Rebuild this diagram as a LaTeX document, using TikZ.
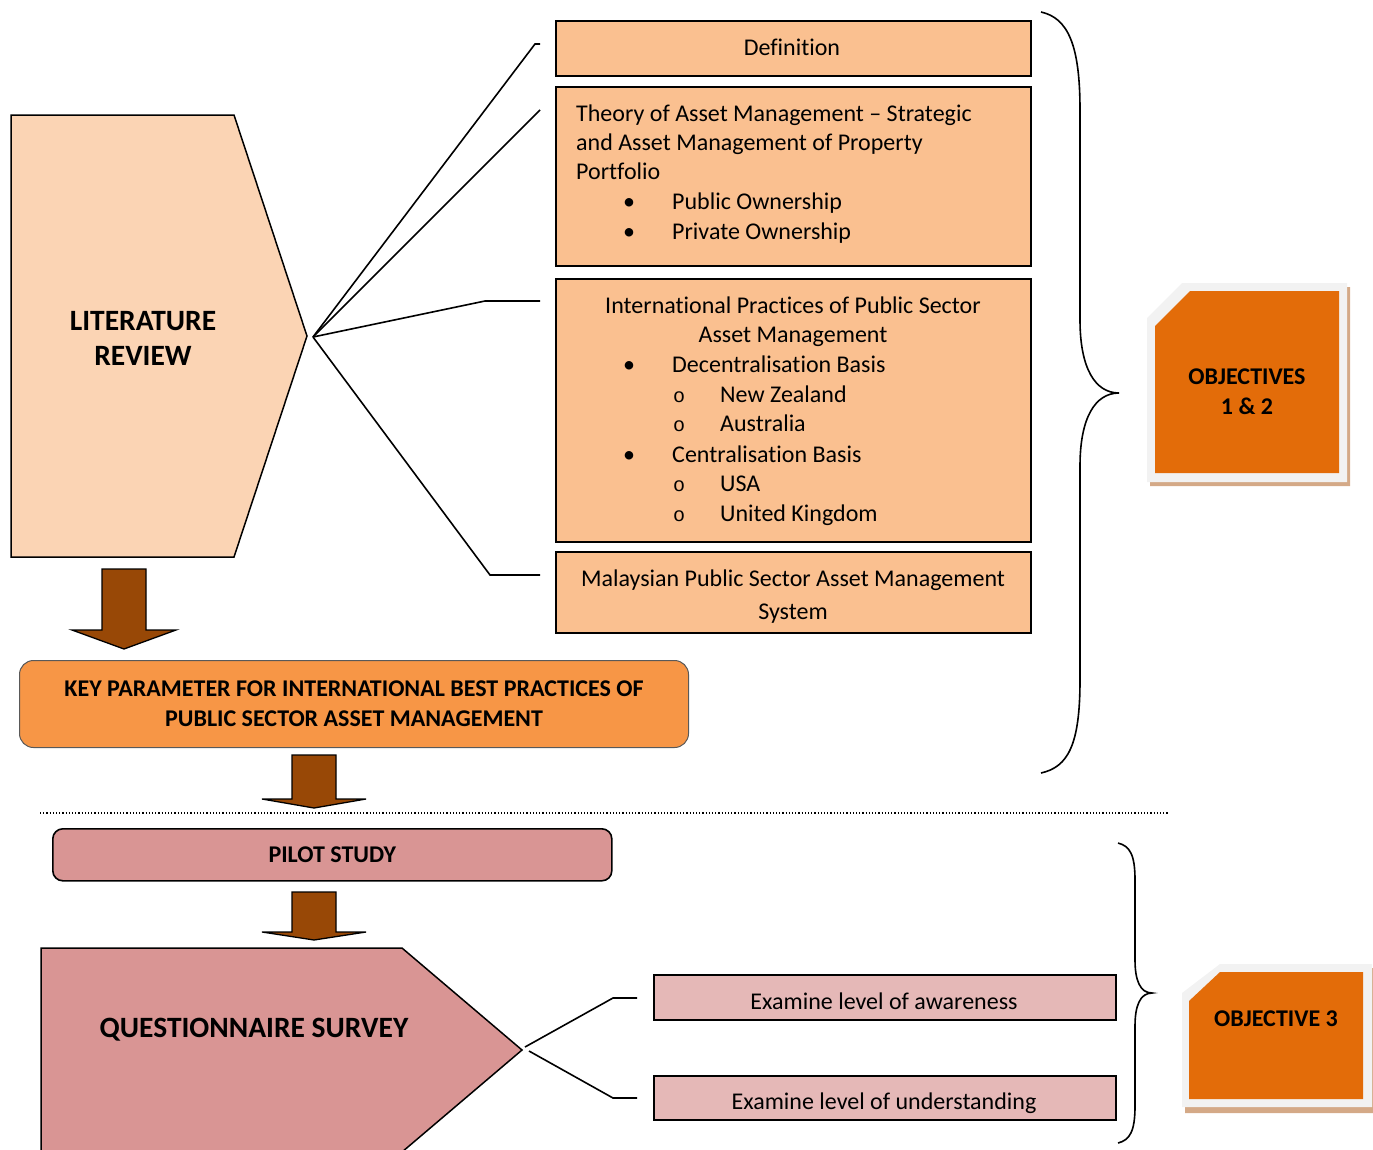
\documentclass[tikz,border=0pt]{standalone}
\usepackage{fontspec}
\setmainfont{Carlito}[Ligatures={TeX,NoCommon}]
\newfontfamily\monofnt{Liberation Mono}
\definecolor{litfill}{HTML}{FBD4B4}
\definecolor{boxfill}{HTML}{FAC090}
\definecolor{keyfill}{HTML}{F79646}
\definecolor{pilotfill}{HTML}{D99594}
\definecolor{examfill}{HTML}{E5B8B7}
\definecolor{objfill}{HTML}{E36C09}
\definecolor{objrim}{HTML}{F2F2F2}
\definecolor{objshadow}{HTML}{D4A987}
\definecolor{arrowbrown}{HTML}{984806}
\newcommand\txtsize{\fontsize{24}{29.5}\selectfont}
\newcommand\boldsize{\fontsize{24}{30}\selectfont\bfseries}
\tikzset{
  box/.style={draw=black, line width=1.6pt, fill=boxfill, inner sep=0pt, anchor=north west},
  exambox/.style={draw=black, line width=1.6pt, fill=examfill, inner sep=0pt, anchor=north west},
  lbl/.style={font=\txtsize, inner sep=0pt, anchor=base west},
  clbl/.style={font=\txtsize, inner sep=0pt, anchor=base},
  blt/.style={font=\txtsize, inner sep=0pt, anchor=base},
  sub/.style={font=\monofnt\fontsize{20}{24}\selectfont, inner sep=0pt, anchor=base},
  conn/.style={draw=black, line width=1.6pt},
  brace/.style={draw=black, line width=1.6pt},
  arrowstyle/.style={draw=black, line width=1.3pt, fill=arrowbrown, line join=miter},
  pics/dnarrow/.style 2 args={code={
    \draw[arrowstyle] (-22,0) -- (22,0) -- (22,#1) -- (52,#1) -- (0,#1+#2)
      -- (-52,#1) -- (-22,#1) -- cycle;}}
}
\begin{document}
\begin{tikzpicture}[x=1pt, y=-1pt]
\useasboundingbox (0,0) rectangle (1373,1149);
\clip (0,0) rectangle (1373,1149);

% literature review block arrow
\draw[line width=1.5pt, fill=litfill] (11,115) -- (234,115) -- (307,336) -- (234,557) -- (11,557) -- cycle;
\node[font=\fontsize{29.5}{35}\selectfont\bfseries, align=center, inner sep=0pt] (lit) at (143,338)
  {LITERATURE\\REVIEW};

% topic boxes
\node[box, minimum width=475pt, minimum height=55pt] (def) at (555,20) {};
\node[clbl] (deft) at (792,55) {Definition};

\node[box, minimum width=475pt, minimum height=179pt] (theory) at (555,86) {};
\node[lbl] (th1) at (576,121) {Theory of Asset Management -- Strategic};
\node[lbl] (th2) at (576,150) {and Asset Management of Property};
\node[lbl] (th3) at (576,179) {Portfolio};
\node[blt] (thb1) at (629,209) {•};
\node[lbl] (th4) at (672,209) {Public Ownership};
\node[blt] (thb2) at (629,239) {•};
\node[lbl] (th5) at (672,239) {Private Ownership};

\node[box, minimum width=475pt, minimum height=263pt] (intl) at (555,278) {};
\node[clbl] (in1) at (793,313) {International Practices of Public Sector};
\node[clbl] (in2) at (793,342) {Asset Management};
\node[blt] (inb1) at (629,372) {•};
\node[lbl] (in3) at (672,372) {Decentralisation Basis};
\node[sub] (ins1) at (679,402) {o};
\node[lbl] (in4) at (720,402) {New Zealand};
\node[sub] (ins2) at (679,431) {o};
\node[lbl] (in5) at (720,431) {Australia};
\node[blt] (inb2) at (629,462) {•};
\node[lbl] (in6) at (672,462) {Centralisation Basis};
\node[sub] (ins3) at (679,491) {o};
\node[lbl] (in7) at (720,491) {USA};
\node[sub] (ins4) at (679,521) {o};
\node[lbl] (in8) at (720,521) {United Kingdom};

\node[box, minimum width=475pt, minimum height=81pt] (malay) at (555,551) {};
\node[clbl] (ma1) at (793,586) {Malaysian Public Sector Asset Management};
\node[clbl] (ma2) at (793,619) {System};

% fan of connectors from the literature review tip
\coordinate (hub) at (313,337);
\coordinate (k1) at (535,44);   \coordinate (e1) at (540,44);
\coordinate (e2) at (540,110);
\coordinate (k3) at (485,301);  \coordinate (e3) at (540,301);
\coordinate (k4) at (490,575);  \coordinate (e4) at (540,575);
\draw[conn] (hub) -- (k1) -- (e1);
\draw[conn] (hub) -- (e2);
\draw[conn] (hub) -- (k3) -- (e3);
\draw[conn] (hub) -- (k4) -- (e4);

% brace grouping objectives 1 and 2
\draw[brace] (1041,12) .. controls (1068,18) and (1080,45) .. (1080,110)
  -- (1080,320) .. controls (1080,368) and (1095,393) .. (1119,393)
  .. controls (1095,393) and (1080,418) .. (1080,466)
  -- (1080,680) .. controls (1080,745) and (1068,767) .. (1041,773);

% objectives 1 & 2 tag
\fill[objshadow] (1150,322) -- (1185,287) -- (1350,287) -- (1350,486) -- (1150,486) -- cycle;
\fill[objrim] (1147,318) -- (1182,283) -- (1347,283) -- (1347,482) -- (1147,482) -- cycle;
\fill[objfill] (1155,326) -- (1190,291) -- (1339,291) -- (1339,473) -- (1155,473) -- cycle;
\node[font=\boldsize, align=center, inner sep=0pt] (obj12) at (1247,392) {OBJECTIVES\\1 \& 2};

% key parameter box and arrows
\pic at (124,569) {dnarrow={61}{19}};
\node[draw=black!65, line width=1pt, fill=keyfill, rounded corners=14pt, anchor=north west,
  minimum width=669pt, minimum height=87pt, inner sep=0pt, align=center, font=\boldsize] (key) at (19,660)
  {KEY PARAMETER FOR INTERNATIONAL BEST PRACTICES OF\\PUBLIC SECTOR ASSET MANAGEMENT};
\pic at (314,755) {dnarrow={44}{9}};

% separator
\draw[line width=1.2pt, dotted] (40,813) -- (1168,813);

% pilot study
\node[draw=black, line width=1.6pt, fill=pilotfill, rounded corners=10pt, anchor=north west,
  minimum width=559pt, minimum height=52pt, inner sep=0pt, font=\boldsize] (pilot) at (52,828)
  {PILOT STUDY};
\pic at (314,892) {dnarrow={40}{8}};

% questionnaire survey block arrow
\draw[line width=1.5pt, fill=pilotfill] (41,1200) -- (41,948) -- (402,948) -- (522,1050) -- (402,1152) -- (402,1200);
\node[font=\fontsize{29.5}{35}\selectfont\bfseries, inner sep=0pt] (quest) at (254,1030) {QUESTIONNAIRE SURVEY};

\coordinate (qa) at (525,1047); \coordinate (qk1) at (613,998); \coordinate (qe1) at (637,998);
\coordinate (qb) at (529,1051); \coordinate (qk2) at (613,1098); \coordinate (qe2) at (637,1098);
\draw[conn] (qa) -- (qk1) -- (qe1);
\draw[conn] (qb) -- (qk2) -- (qe2);

\node[exambox, minimum width=462pt, minimum height=45pt] (aware) at (653,974) {};
\node[clbl] (awaret) at (884,1009) {Examine level of awareness};
\node[exambox, minimum width=462pt, minimum height=44pt] (under) at (653,1075) {};
\node[clbl] (undert) at (884,1109) {Examine level of understanding};

% brace grouping objective 3
\draw[brace] (1118,843) .. controls (1130,846) and (1135,855) .. (1135,880)
  -- (1135,960) .. controls (1135,980) and (1140,993) .. (1152,993)
  .. controls (1140,993) and (1135,1006) .. (1135,1026)
  -- (1135,1106) .. controls (1135,1131) and (1130,1140) .. (1118,1143);

% objective 3 tag
\fill[objshadow] (1185,999) -- (1223,968) -- (1375,968) -- (1375,1113) -- (1185,1113) -- cycle;
\fill[objrim] (1182,993) -- (1220,964) -- (1372,964) -- (1372,1107) -- (1182,1107) -- cycle;
\fill[objfill] (1189,1001) -- (1220,972) -- (1363,972) -- (1363,1099) -- (1189,1099) -- cycle;
\node[font=\boldsize, inner sep=0pt] (obj3) at (1276,1019) {OBJECTIVE 3};
\end{tikzpicture}
\end{document}
